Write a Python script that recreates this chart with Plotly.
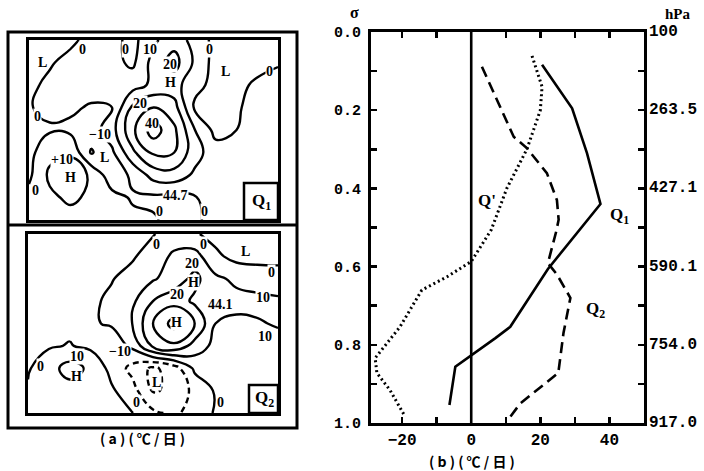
import plotly.graph_objects as go

W, H = 704, 471

# ---------------- panel (b) data ----------------
q1_sigma = [0.084, 0.195, 0.31, 0.44, 0.606, 0.685, 0.754, 0.783, 0.826, 0.856, 0.954]
q1_vals = [20.5, 29.2, 33.5, 37.4, 22.2, 16.5, 11.3, 7.0, 0.0, -4.6, -6.3]

q2_sigma = [0.089, 0.268, 0.297, 0.361, 0.43, 0.48, 0.51, 0.591, 0.62, 0.68, 0.77, 0.872, 0.95, 0.984]
q2_vals = [3.1, 12.3, 16.1, 21.9, 24.8, 25.3, 24.6, 22.2, 24.8, 28.7, 26.7, 25.2, 14.2, 11.3]

qp_sigma = [0.061, 0.14, 0.2, 0.30, 0.40, 0.506, 0.587, 0.626, 0.66, 0.754, 0.834, 0.872, 0.916, 0.984]
qp_vals = [17.6, 20.5, 20.0, 16.1, 10.3, 5.8, 0.0, -7.0, -14.3, -20.6, -27.8, -27.3, -23.5, -19.1]

sigma_ticks = [0.0, 0.1, 0.2, 0.3, 0.4, 0.5, 0.6, 0.7, 0.8, 0.9, 1.0]
sigma_text = ["0.0", "", "0.2", "", "0.4", "", "0.6", "", "0.8", "", "1.0"]
hpa_ticks = [0.0, 0.2, 0.4, 0.6, 0.8, 1.0]
hpa_text = ["100", "263.5", "427.1", "590.1", "754.0", "917.0"]
x_ticks = [-20, -10, 0, 10, 20, 30, 40]
x_text = ["\u221220", "", "0", "", "20", "", "40"]

# ---------------- panel (a) data (estimated grid values, deg C/day) ----------------
grid_x = list(range(13))
grid_y = list(range(9))
q1_field = [
    [-6, -4, -2, 3, 3, -3, 8, 16, 6, -3, -6, -5, -2],
    [-4, -1, 3, 5, 3, -2, 14, 24, 8, -4, -7, -4, -1],
    [-2, 2, 4, 4, 1, 6, 12, 14, 3, -3, -3, 2, 4],
    [-0.5, 2, 1.5, -1, 0, 22, 30, 24, -2, -4, -1, 3, 4],
    [-2, -1, -2, -5, 6, 28, 45, 32, 10, -3, 0, 3, 4],
    [-3, 7, 8, -11, -2, 18, 32, 30, 14, 4, 4, 4, 4],
    [-2, 12, 18, 8, -6, 2, 14, 16, 8, 4, 4, 5, 5],
    [3, 8, 12, 8, 3, -1, -2, -3, -0.5, 3, 3, 3, 3],
    [3, 5, 6, 4, 3, 2, 1, -3, -1, 2, 3, 3, 3],
]
q2_field = [
    [-3, -3, -3, -3, -2, -1, -0.5, 4, 1, -3, -5, -4, -3],
    [-3, -3, -3, -2, -1, -1, 4, 12, 14, 2, -3, -3, -2],
    [-3, -3, -3, -2, -0.5, 3, 9, 14, 23, 12, 8, 5, 3],
    [-3, -3, -2.5, -1.5, 1.5, 8, 20, 26, 18, 15, 13, 13, 12],
    [-3, -3, -2, -1, 1, 10, 30, 44, 30, 10, 8, 9, 11],
    [-2, -1, 0.5, -2, -6, 2, 22, 28, 16, 7, 6, 6, 6],
    [-1, 6, 14, 8, -3, -13, -22, -15, 2, 5, 5, 5, 5],
    [1, 4, 6, 4, 1.5, -6, -21, -18, -7, 1, 4, 4, 4],
    [2, 3, 4, 3, 1, 0.3, -8, -12, -6, 1, 3, 3, 3],
]

q1_labels = [("L", 0.67, 1.02), ("0", 2.6, 0.44), ("0", 4.63, 0.44), ("10", 5.83, 0.44),
             ("20", 6.8, 1.08), ("H", 6.8, 1.9), ("0", 8.72, 0.44), ("L", 9.45, 1.42),
             ("0", 11.6, 1.42), ("0", 0.39, 3.42), ("20", 5.35, 2.8), ("40", 5.93, 3.69),
             ("\u221210", 3.42, 4.22), ("L", 3.66, 5.2), ("+10", 1.59, 5.33), ("H", 1.98, 6.13),
             ("0", 0.29, 6.67), ("44.7", 7.04, 6.89), ("0", 6.31, 7.64), ("0", 8.48, 7.64)]
q2_labels = [("0", 6.19, 0.49), ("0", 8.4, 0.49), ("L", 10.42, 0.8), ("0", 11.71, 1.7),
             ("20", 7.87, 1.3), ("H", 7.92, 2.15), ("20", 7.15, 2.72), ("44.1", 9.22, 3.17),
             ("10", 11.28, 2.86), ("10", 11.38, 4.6), ("H", 7.15, 3.97), ("\u221210", 4.42, 5.27),
             ("0", 0.58, 5.94), ("10", 2.35, 5.49), ("H", 2.35, 6.38), ("L", 6.19, 6.65),
             ("0", 5.23, 7.54), ("0", 9.22, 7.54)]


def px(x):
    return x / W


def py(y):
    return 1 - y / H


BLACK = "black"
SERIF = "Liberation Serif"
MONO = "Liberation Mono"
bw = [[0, BLACK], [1, BLACK]]

fig = go.Figure()

# ---- profiles
fig.add_trace(go.Scatter(x=q1_vals, y=q1_sigma, mode="lines", line=dict(color=BLACK, width=2.6),
                         xaxis="x", yaxis="y", showlegend=False))
fig.add_trace(go.Scatter(x=q2_vals, y=q2_sigma, mode="lines",
                         line=dict(color=BLACK, width=2.6, dash="11px,6px"),
                         xaxis="x", yaxis="y", showlegend=False))
fig.add_trace(go.Scatter(x=qp_vals, y=qp_sigma, mode="lines",
                         line=dict(color=BLACK, width=3, dash="2px,3px"),
                         xaxis="x", yaxis="y", showlegend=False))
fig.add_trace(go.Scatter(x=[0, 0], y=[0, 1], mode="lines", line=dict(color=BLACK, width=2.6),
                         xaxis="x", yaxis="y", showlegend=False))


def contour(field, xa, ya, start, end, dash):
    return go.Contour(z=field, x=grid_x, y=grid_y, xaxis=xa, yaxis=ya,
                      contours=dict(start=start, end=end, size=10, coloring="lines", showlabels=False),
                      colorscale=bw, showscale=False, line=dict(width=2.4, dash=dash, smoothing=1.3),
                      hoverinfo="skip")


fig.add_trace(contour(q1_field, "x3", "y3", -10, 40, "solid"))
fig.add_trace(contour(q2_field, "x4", "y4", 0, 40, "solid"))
fig.add_trace(contour(q2_field, "x4", "y4", -20, -10, "6px,4px"))

tickfont_l = dict(family=MONO, size=15, color=BLACK, weight="bold")
tickfont_r = dict(family=MONO, size=16, color=BLACK, weight="bold")

map_axis = dict(showticklabels=False, ticks="", showgrid=False, zeroline=False, automargin=False,
                showline=True, linewidth=3, linecolor=BLACK, mirror=True)

fig.update_layout(
    width=W, height=H, margin=dict(l=0, r=0, t=0, b=0, pad=0, autoexpand=False),
    paper_bgcolor="white", plot_bgcolor="white", showlegend=False,
    xaxis=dict(domain=[px(371), px(644)], range=[-29, 50], tickvals=x_ticks, ticktext=x_text,
               ticks="inside", ticklen=6, tickwidth=2.5, tickcolor=BLACK, showline=True, linewidth=3,
               linecolor=BLACK, mirror="ticks", showgrid=False, zeroline=False, tickfont=tickfont_r,
               anchor="y", automargin=False),
    yaxis=dict(domain=[py(423), py(32)], range=[1.0, 0.0], tickvals=sigma_ticks, ticktext=sigma_text,
               ticks="inside", ticklen=6, tickwidth=2.5, tickcolor=BLACK, showline=True, linewidth=3,
               linecolor=BLACK, mirror="ticks", showgrid=False, zeroline=False, tickfont=tickfont_l,
               anchor="x", ticklabelstandoff=4, automargin=False),
    xaxis3=dict(domain=[px(29), px(278)], range=[0, 12], anchor="y3", **map_axis),
    yaxis3=dict(domain=[py(220), py(40)], range=[8, 0], anchor="x3", **map_axis),
    xaxis4=dict(domain=[px(28), px(278)], range=[0, 12], anchor="y4", **map_axis),
    yaxis4=dict(domain=[py(413), py(234)], range=[8, 0], anchor="x4", **map_axis),
)

shapes = [
    dict(type="rect", xref="paper", yref="paper", x0=px(8), x1=px(297), y0=py(428), y1=py(32),
         line=dict(color=BLACK, width=3)),
    dict(type="line", xref="paper", yref="paper", x0=px(8), x1=px(297), y0=py(225), y1=py(225),
         line=dict(color=BLACK, width=3)),
    dict(type="rect", xref="paper", yref="paper", x0=px(244), x1=px(278), y0=py(220), y1=py(183),
         line=dict(color=BLACK, width=2.5), fillcolor="white"),
    dict(type="rect", xref="paper", yref="paper", x0=px(249), x1=px(278), y0=py(413), y1=py(385),
         line=dict(color=BLACK, width=2.5), fillcolor="white"),
]
fig.update_layout(shapes=shapes)

ann = []
lab_font = dict(family=SERIF, size=14, color=BLACK, weight="bold")
for t, gx, gy in q1_labels:
    ann.append(dict(text=t, x=gx, y=gy, xref="x3", yref="y3", showarrow=False, font=lab_font,
                    bgcolor="white", borderpad=0, xanchor="center", yanchor="middle"))
for t, gx, gy in q2_labels:
    ann.append(dict(text=t, x=gx, y=gy, xref="x4", yref="y4", showarrow=False, font=lab_font,
                    bgcolor="white", borderpad=0, xanchor="center", yanchor="middle"))

for v, t in zip(hpa_ticks, hpa_text):
    ann.append(dict(text=t, x=px(647), y=v, xref="paper", yref="y", showarrow=False,
                    font=tickfont_r, xanchor="left", yanchor="middle"))

big = dict(family=SERIF, size=17, color=BLACK, weight="bold")
cjk = dict(family="Noto Sans CJK SC", size=14, color=BLACK, weight="bold")


def pann(text, x, y, font):
    return dict(text=text, x=px(x), y=py(y), xref="paper", yref="paper", showarrow=False,
                font=font, xanchor="center", yanchor="middle")


ann += [
    pann("Q<sub>1</sub>", 261, 202, big),
    pann("Q<sub>2</sub>", 264, 399, big),
    pann("( a ) ( \u2103 / \u65e5 )", 142, 438, cjk),
    pann("( b ) ( \u2103 / \u65e5 )", 472, 461, cjk),
    pann("\u03c3", 354, 13, dict(family=SERIF, size=16, color=BLACK, weight="bold")),
    pann("hPa", 678, 14, dict(family=SERIF, size=15, color=BLACK, weight="bold")),
    dict(text="Q'", x=1.5, y=0.43, xref="x", yref="y", showarrow=False, font=big,
         xanchor="left", yanchor="middle"),
    dict(text="Q<sub>1</sub>", x=39.5, y=0.47, xref="x", yref="y", showarrow=False, font=big,
         xanchor="left", yanchor="middle"),
    dict(text="Q<sub>2</sub>", x=32.5, y=0.71, xref="x", yref="y", showarrow=False, font=big,
         xanchor="left", yanchor="middle"),
]
fig.update_layout(annotations=ann)

fig.write_html("out.html", config={"displayModeBar": False, "staticPlot": True},
               post_script="document.body.style.margin='0';document.body.style.overflow='hidden';")
